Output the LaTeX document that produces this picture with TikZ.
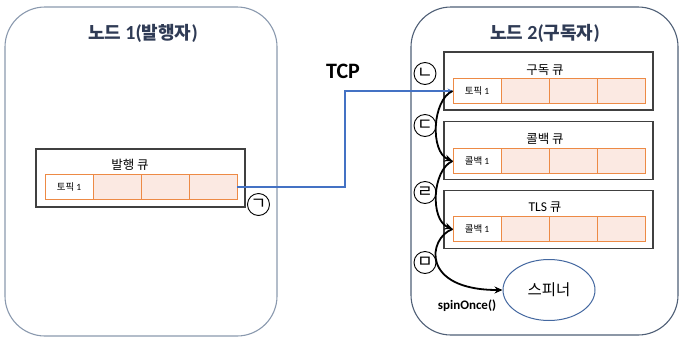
\documentclass[tikz,border=0pt]{standalone}
\usepackage{fontspec}
\setmainfont{Carlito}
\newfontfamily\kr{Noto Sans CJK KR}
\newfontfamily\lat{Carlito}
\usetikzlibrary{arrows.meta,shapes.geometric}
\definecolor{outerA}{HTML}{8A99AE}
\definecolor{outerB}{HTML}{4F5F76}
\definecolor{titlec}{HTML}{2F3B55}
\definecolor{qline}{HTML}{404040}
\definecolor{cellline}{HTML}{ED8A45}
\definecolor{cellfill}{HTML}{FBE9E2}
\definecolor{tcpblue}{HTML}{4472C4}
\definecolor{ellc}{HTML}{4468A0}
\tikzset{
  outerbox/.style={draw, line width=1.1pt, rounded corners=40pt, inner sep=0pt},
  titletext/.style={font=\kr\bfseries\fontsize{18}{20}\selectfont, text=titlec, inner sep=0pt},
  qbox/.style={draw=qline, line width=1.2pt, minimum width=209pt, minimum height=58pt, inner sep=0pt},
  qlabel/.style={font=\kr\fontsize{12.5}{14}\selectfont, inner sep=0pt},
  cellw/.style={draw=cellline, line width=0.9pt, fill=white, minimum width=48pt, minimum height=25pt, inner sep=0pt, font=\kr\fontsize{9.5}{11}\selectfont},
  cellp/.style={cellw, fill=cellfill},
  mark circle/.style={circle, draw, line width=0.9pt, minimum size=22pt, inner sep=0pt, font=\kr\fontsize{17}{18}\selectfont},
  flow/.style={line width=1.8pt, -{Stealth[length=8pt,width=7pt]}},
  tcpline/.style={color=tcpblue, line width=2pt, -{Stealth[length=5pt,width=5pt]}},
}
\begin{document}
\begin{tikzpicture}[x=1pt,y=-1pt]
\useasboundingbox (0,0) rectangle (680,338);
% outer nodes
\node[outerbox, draw=outerA, minimum width=272pt, minimum height=329pt] (n1) at (141,171.5) {};
\node[outerbox, draw=outerB, minimum width=267pt, minimum height=328pt] (n2) at (544.5,171) {};
\node[titletext] (t1) at (143,33) {노드 {\lat\bfseries\fontsize{20}{22}\selectfont 1(}발행자{\lat\bfseries\fontsize{20}{22}\selectfont )}};
\node[titletext] (t2) at (545,33) {노드 {\lat\bfseries\fontsize{20}{22}\selectfont 2(}구독자{\lat\bfseries\fontsize{20}{22}\selectfont )}};
% publisher queue
\node[qbox] (pq) at (140.5,178) {};
\node[qlabel] (pql) at (130,165) {발행 큐};
\node[cellw] (p1) at (69,187) {토픽 {\lat 1}};
\node[cellp] (p2) at (117,187) {};
\node[cellp] (p3) at (165,187) {};
\node[cellp] (p4) at (213,187) {};
% subscription queue
\node[qbox] (sq) at (548.5,81) {};
\node[qlabel] (sql) at (545,70) {구독 큐};
\node[cellw] (s1) at (477,91) {토픽 {\lat 1}};
\node[cellp] (s2) at (525,91) {};
\node[cellp] (s3) at (573,91) {};
\node[cellp] (s4) at (621,91) {};
% callback queue
\node[qbox] (cq) at (548.5,150.5) {};
\node[qlabel] (cql) at (545,139) {콜백 큐};
\node[cellw] (c1) at (477,161) {콜백 {\lat 1}};
\node[cellp] (c2) at (525,161) {};
\node[cellp] (c3) at (573,161) {};
\node[cellp] (c4) at (621,161) {};
% TLS queue
\node[qbox] (lq) at (548.5,219.5) {};
\node[qlabel] (lql) at (545,207) {{\lat\fontsize{13.5}{15}\selectfont TLS} 큐};
\node[cellw] (l1) at (477,229) {콜백 {\lat 1}};
\node[cellp] (l2) at (525,229) {};
\node[cellp] (l3) at (573,229) {};
\node[cellp] (l4) at (621,229) {};
% spinner
\node[ellipse, draw=ellc, line width=1pt, minimum width=92pt, minimum height=61pt, inner sep=0pt, font=\kr\fontsize{15.5}{17}\selectfont] (sp) at (549,290) {스피너};
\node[font=\lat\bfseries\fontsize{13}{15}\selectfont, inner sep=0pt] (so) at (467,306) {spinOnce()};
\node[font=\lat\bfseries\fontsize{22}{24}\selectfont, inner sep=0pt] (tcp) at (343,71) {TCP};
% marks
\node[mark circle] (m1) at (258.5,204.5) {ㄱ};
\node[mark circle] (m2) at (425,73.5) {ㄴ};
\node[mark circle] (m3) at (425,125.5) {ㄷ};
\node[mark circle] (m4) at (425,192.5) {ㄹ};
\node[mark circle] (m5) at (425,262.5) {ㅁ};
% connectors
\coordinate (tc) at (345,91);
\draw[tcpline] (p4.east) -| (tc) -- (s1.west);
\draw[flow] (s1.west) .. controls (432,100) and (430,152) .. (c1.west);
\draw[flow] (c1.west) .. controls (432,170) and (430,220) .. (l1.west);
\draw[flow] (l1.west) .. controls (428,238) and (420,290) .. (sp.west);
\end{tikzpicture}
\end{document}
